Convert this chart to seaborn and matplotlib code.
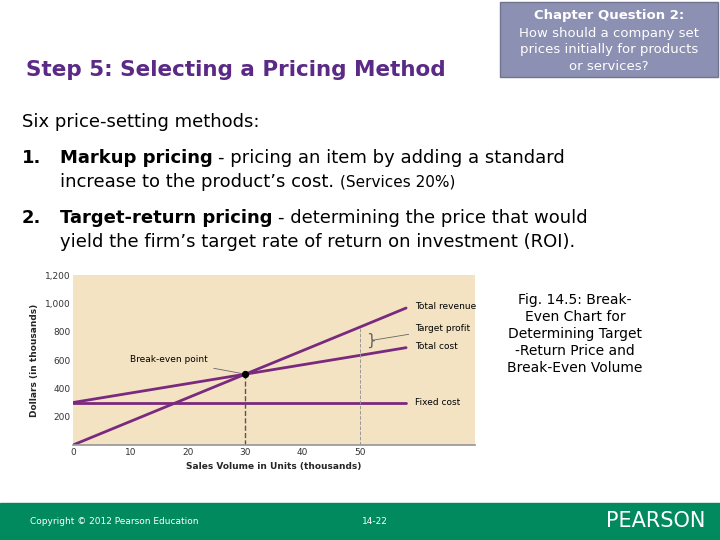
import matplotlib
matplotlib.use("Agg")
import matplotlib.pyplot as plt
import seaborn as sns
import pandas as pd
from matplotlib.patches import Rectangle

sns.set_theme(style="white")
plt.rcParams['font.family'] = ['DejaVu Sans']
plt.rcParams['text.color'] = 'black'

volume = [0, 30, 50, 58]
total_revenue = [0, 500, 833, 967]
total_cost = [300, 500, 633, 687]
fixed_cost = [300, 300, 300, 300]
x_ticks = [0, 10, 20, 30, 40, 50]
y_ticks = [200, 400, 600, 800, 1000, 1200]
y_tick_labels = ["200", "400", "600", "800", "1,000", "1,200"]

W, H = 720, 540
fig = plt.figure(figsize=(7.2, 5.4), dpi=100)

def px(x, y):
    return x / W, 1 - y / H

def follow(prev, s, **kw):
    return fig.text(0, 0, s, transform=None, **kw) if False else \
        plt.annotate(s, xy=(1, 0.5), xycoords=prev, xytext=(4, 0), textcoords="offset points",
                     va="center", annotation_clip=False, **kw)

# slide decorations
fig.patches.append(Rectangle(px(0, 540), 1, 37 / H, transform=fig.transFigure, color="#008a5e", zorder=0))
fig.patches.append(Rectangle(px(500, 77), 218 / W, 75 / H, transform=fig.transFigure,
                             facecolor="#8c90b2", edgecolor="#70748f", lw=1, zorder=0))
fig.text(*px(609, 16), "Chapter Question 2:", color="white", fontsize=9.5, fontweight="bold", ha="center", va="center")
for i, t in enumerate(["How should a company set", "prices initially for products", "or services?"]):
    fig.text(*px(609, 33 + 17 * i), t, color="white", fontsize=9.5, ha="center", va="center")
fig.text(*px(26, 70), "Step 5: Selecting a Pricing Method", color="#5b2a86", fontsize=15.5, fontweight="bold", va="center")
fig.text(*px(22, 122), "Six price-setting methods:", fontsize=13, va="center")

# chart
l, b = px(73, 445)
ax = fig.add_axes([l, b, (475 - 73) / W, (445 - 275) / H])
ax.set_facecolor("#f3e3c3")
df = pd.DataFrame({"v": volume, "rev": total_revenue, "cost": total_cost, "fix": fixed_cost})
purple = "#7a2a7e"
for col in ["rev", "cost", "fix"]:
    sns.lineplot(data=df, x="v", y=col, ax=ax, color=purple, lw=2)
ax.set_xlim(0, 70)
ax.set_ylim(0, 1200)
ax.set_xticks(x_ticks)
ax.set_yticks(y_ticks)
ax.set_yticklabels(y_tick_labels)
ax.tick_params(labelsize=6.5, colors="#333333", length=0, pad=2)
ax.set_xlabel("Sales Volume in Units (thousands)", fontsize=6.5, fontweight="bold")
ax.set_ylabel("Dollars (in thousands)", fontsize=6.5, fontweight="bold")
for s in ax.spines.values():
    s.set_visible(False)
ax.spines["bottom"].set_visible(True)
ax.spines["bottom"].set_color("#999999")
ax.vlines(30, 0, 500, colors="#555555", linestyles="--", lw=1)
ax.vlines(50, 0, 833, colors="#999999", linestyles="--", lw=0.7)
ax.scatter([30], [500], color="black", s=18, zorder=5)
ax.annotate("Break-even point", xy=(30, 500), xytext=(10, 600), fontsize=6.5, va="center",
            arrowprops=dict(arrowstyle="-", color="#666666", lw=0.6))
ax.annotate("Target profit", xy=(51.5, 735), xytext=(59.5, 820), fontsize=6.5, va="center",
            arrowprops=dict(arrowstyle="-", color="#666666", lw=0.6))
ax.text(51, 735, "}", fontsize=11, va="center", color="#666666")
ax.text(59.5, 980, "Total revenue", fontsize=6.5, va="center")
ax.text(59.5, 695, "Total cost", fontsize=6.5, va="center")
ax.text(59.5, 300, "Fixed cost", fontsize=6.5, va="center")

fig.text(*px(22, 158), "1.", fontsize=13, fontweight="bold", va="center")
t1 = fig.text(*px(60, 158), "Markup pricing", fontsize=13, fontweight="bold", va="center")
follow(t1, "- pricing an item by adding a standard", fontsize=13)
t2 = fig.text(*px(60, 182), "increase to the product\u2019s cost.", fontsize=13, va="center")
follow(t2, "(Services 20%)", fontsize=11)
fig.text(*px(22, 218), "2.", fontsize=13, fontweight="bold", va="center")
t3 = fig.text(*px(60, 218), "Target-return pricing", fontsize=13, fontweight="bold", va="center")
follow(t3, "- determining the price that would", fontsize=13)
fig.text(*px(60, 242), "yield the firm\u2019s target rate of return on investment (ROI).", fontsize=13, va="center")
for i, t in enumerate(["Fig. 14.5: Break-", "Even Chart for", "Determining Target", "-Return Price and", "Break-Even Volume"]):
    fig.text(*px(575, 300 + 17 * i), t, fontsize=10, ha="center", va="center")
fig.text(*px(30, 521), "Copyright \u00a9 2012 Pearson Education", color="white", fontsize=6.5, va="center")
fig.text(*px(362, 521), "14-22", color="white", fontsize=6.5, va="center")
fig.text(*px(705, 521), "PEARSON", color="white", fontsize=15, ha="right", va="center")

fig.savefig("out.png", dpi=100)
